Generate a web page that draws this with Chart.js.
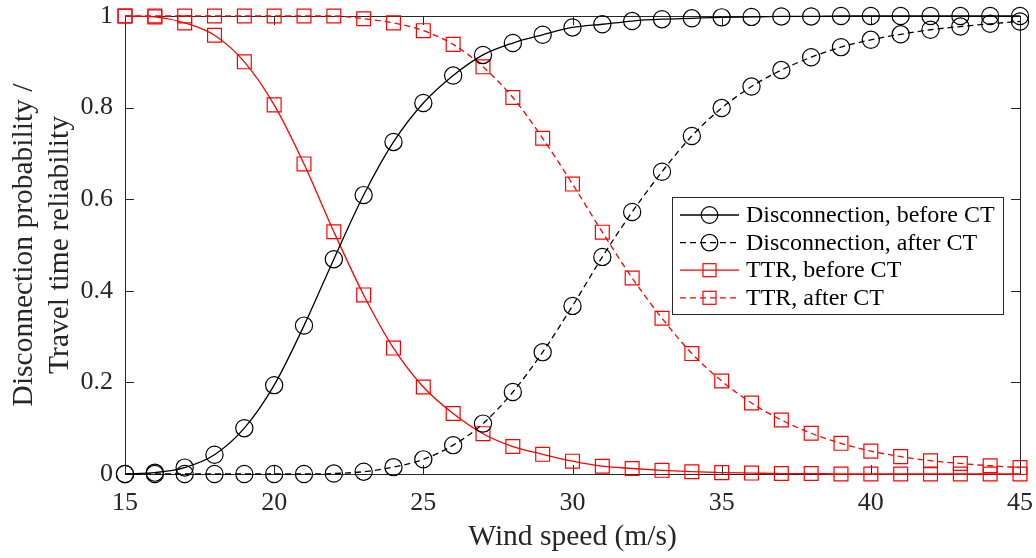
<!DOCTYPE html>
<html>
<head>
<meta charset="utf-8">
<title>Disconnection probability / TTR vs wind speed</title>
<script src="https://cdn.jsdelivr.net/npm/chart.js@4/dist/chart.umd.min.js"></script>
<style>
  html, body { margin: 0; padding: 0; background: #fff; }
  #wrap { width: 1036px; height: 558px; }
</style>
</head>
<body>
<div id="wrap"><canvas id="chart" width="1036" height="558"></canvas></div>
<script>
// wind speed (m/s)
const speeds = [15, 16, 17, 18, 19, 20, 21, 22, 23, 24, 25, 26, 27, 28, 29, 30,
                31, 32, 33, 34, 35, 36, 37, 38, 39, 40, 41, 42, 43, 44, 45];

const discBefore = [0, 0.003, 0.014, 0.042, 0.1, 0.194, 0.324, 0.469, 0.609, 0.725, 0.81, 0.87, 0.915, 0.941, 0.959,
                    0.975, 0.982, 0.989, 0.993, 0.995, 0.997, 0.998, 0.999, 0.999, 1, 1, 1, 1, 1, 1, 1];
const discAfter = [0, 0, 0, 0, 0, 0, 0, 0.001, 0.005, 0.015, 0.032, 0.063, 0.11, 0.179, 0.266,
                   0.367, 0.474, 0.572, 0.66, 0.738, 0.799, 0.846, 0.882, 0.91, 0.932, 0.948, 0.96, 0.97, 0.977, 0.983, 0.988];
const ttrBefore = [1, 0.998, 0.985, 0.958, 0.9, 0.806, 0.677, 0.529, 0.391, 0.275, 0.19, 0.132, 0.088, 0.06, 0.043,
                   0.028, 0.017, 0.012, 0.008, 0.005, 0.003, 0.002, 0.001, 0.001, 0, 0, 0, 0, 0, 0, 0];
const ttrAfter = [1, 1, 1, 1, 1, 1, 1, 1, 0.994, 0.985, 0.968, 0.938, 0.889, 0.822, 0.733,
                  0.633, 0.528, 0.428, 0.34, 0.263, 0.203, 0.155, 0.118, 0.089, 0.067, 0.05, 0.038, 0.029, 0.023, 0.018, 0.014];

const seriesNames = ['Disconnection, before CT', 'Disconnection, after CT', 'TTR, before CT', 'TTR, after CT'];
const xTicks = [15, 20, 25, 30, 35, 40, 45];
const yTicks = [0, 0.2, 0.4, 0.6, 0.8, 1];

const SERIF = '"Liberation Serif", "Times New Roman", serif';
const AXIS_COLOR = '#262626';
const RED = '#ff0000';

function pts(ys) {
    return speeds.map((x, i) => ({ x: x, y: ys[i] }));
}

function makeSet(label, ys, color, dashed, style) {
    return {
        label: label,
        data: pts(ys),
        borderColor: color,
        borderWidth: 1.3,
        borderDash: dashed ? [6, 4] : [],
        backgroundColor: 'rgba(0,0,0,0)',
        pointStyle: style,
        pointRadius: style === 'rect' ? 9.8 : 8.6,
        pointBorderWidth: 1.2,
        pointBorderColor: color,
        pointBackgroundColor: 'rgba(0,0,0,0)',
        cubicInterpolationMode: 'monotone',
        clip: false
    };
}

// box and inward tick marks, MATLAB style
const axesBox = {
    id: 'axesBox',
    beforeDatasetsDraw(chart) {
        const { ctx, chartArea: a, scales } = chart;
        ctx.save();
        ctx.strokeStyle = AXIS_COLOR;
        ctx.lineWidth = 1;
        ctx.strokeRect(a.left + 0.5, a.top + 0.5, a.right - a.left, a.bottom - a.top);
        ctx.beginPath();
        xTicks.forEach(v => {
            const px = Math.round(scales.x.getPixelForValue(v)) + 0.5;
            ctx.moveTo(px, a.bottom); ctx.lineTo(px, a.bottom - 9);
            ctx.moveTo(px, a.top); ctx.lineTo(px, a.top + 9);
        });
        yTicks.forEach(v => {
            const py = Math.round(scales.y.getPixelForValue(v)) + 0.5;
            ctx.moveTo(a.left, py); ctx.lineTo(a.left + 9, py);
            ctx.moveTo(a.right, py); ctx.lineTo(a.right - 9, py);
        });
        ctx.stroke();
        ctx.restore();
    }
};

// legend with line sample and marker in the middle
const boxLegend = {
    id: 'boxLegend',
    afterDraw(chart) {
        const { ctx } = chart;
        const bx = 672, by = 197, bw = 331, bh = 117;
        ctx.save();
        ctx.fillStyle = '#fff';
        ctx.fillRect(bx, by, bw, bh);
        ctx.strokeStyle = AXIS_COLOR;
        ctx.lineWidth = 1;
        ctx.strokeRect(bx + 0.5, by + 0.5, bw, bh);
        chart.data.datasets.forEach((ds, i) => {
            const y = by + 18 + i * 27.6;
            ctx.strokeStyle = ds.borderColor;
            ctx.lineWidth = ds.borderWidth;
            ctx.setLineDash(ds.borderDash);
            ctx.beginPath();
            ctx.moveTo(680, y); ctx.lineTo(739, y);
            ctx.stroke();
            ctx.setLineDash([]);
            ctx.lineWidth = ds.pointBorderWidth;
            if (ds.pointStyle === 'rect') {
                ctx.strokeRect(703, y - 6.5, 13, 13);
            } else {
                ctx.beginPath();
                ctx.arc(709.5, y, 8.3, 0, Math.PI * 2);
                ctx.stroke();
            }
            ctx.fillStyle = '#000';
            ctx.font = '24px ' + SERIF;
            ctx.textBaseline = 'middle';
            ctx.fillText(ds.label, 746, y + 1);
        });
        ctx.restore();
    }
};

const ctx = document.getElementById('chart');

new Chart(ctx, {
    type: 'line',
    data: {
        datasets: [
            makeSet(seriesNames[0], discBefore, '#000', false, 'circle'),
            makeSet(seriesNames[1], discAfter, '#000', true, 'circle'),
            makeSet(seriesNames[2], ttrBefore, RED, false, 'rect'),
            makeSet(seriesNames[3], ttrAfter, RED, true, 'rect')
        ]
    },
    options: {
        responsive: false,
        animation: false,
        layout: { padding: { left: 0, right: 16, top: 16, bottom: 0 } },
        plugins: {
            legend: { display: false },
            tooltip: { enabled: false }
        },
        scales: {
            x: {
                type: 'linear',
                min: 15,
                max: 45,
                afterBuildTicks: s => { s.ticks = xTicks.map(v => ({ value: v })); },
                afterFit: s => { s.height = 84; s.paddingLeft = 0; s.paddingRight = 0; },
                grid: { display: false, drawTicks: false },
                border: { display: false },
                ticks: {
                    color: AXIS_COLOR,
                    padding: 14,
                    maxRotation: 0,
                    font: { family: SERIF, size: 26 }
                },
                title: {
                    display: true,
                    text: 'Wind speed (m/s)',
                    color: AXIS_COLOR,
                    font: { family: SERIF, size: 29.5, lineHeight: 1.2 },
                    padding: { top: 0, bottom: 3 }
                }
            },
            y: {
                min: 0,
                max: 1,
                afterBuildTicks: s => { s.ticks = yTicks.map(v => ({ value: v })); },
                afterFit: s => { s.width = 125; s.paddingTop = 0; s.paddingBottom = 0; },
                grid: { display: false, drawTicks: false },
                border: { display: false },
                ticks: {
                    color: AXIS_COLOR,
                    padding: 12,
                    font: { family: SERIF, size: 26 },
                    callback: v => String(Math.round(v * 10) / 10)
                },
                title: {
                    display: true,
                    text: ['Disconnection probability /', 'Travel time reliability'],
                    color: AXIS_COLOR,
                    font: { family: SERIF, size: 29.5, lineHeight: 1.2 },
                    padding: { top: 7, bottom: 0 }
                }
            }
        }
    },
    plugins: [axesBox, boxLegend]
});
</script>
</body>
</html>
